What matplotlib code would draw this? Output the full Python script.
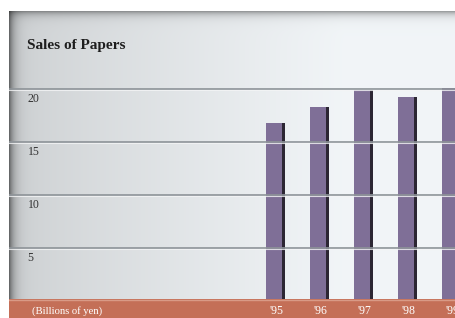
import numpy as np
import matplotlib.pyplot as plt

years = ["'95", "'96", "'97", "'98", "'99"]
sales = [16.8, 18.3, 19.9, 19.2, 20.1]
yticks = [5, 10, 15, 20]
title = "Sales of Papers"
unit_label = "(Billions of yen)"

W, H = 456, 318
fig = plt.figure(figsize=(W / 100, H / 100), dpi=100)
fig.patch.set_facecolor("white")

# panel background: grey gradient, dark on the left edge and the top
pl, pt = 9, 11
bg = fig.add_axes([pl / W, 0, 1 - pl / W, (H - pt) / H])
nx, ny = 447, 307
xs = np.linspace(0, 1, nx)
ys = np.linspace(0, 1, ny)
base = 0.82 + 0.15 * np.clip(xs / 0.75, 0, 1) ** 0.8
edge = 1 - 0.5 * np.exp(-xs * nx / 5.0)
row = base * edge
col = 1 - 0.35 * np.exp(-ys * ny / 4.0)
img = np.outer(col, row)
rgb = np.dstack([img * 0.975, img * 0.99, img * 1.0])
bg.imshow(np.clip(rgb, 0, 1), aspect="auto", extent=[0, 1, 0, 1])
bg.set_axis_off()

# data axes
bottom_px = 301
ax = fig.add_axes([pl / W, (H - bottom_px) / H, 1 - pl / W, (bottom_px - pt) / H])
ax.patch.set_alpha(0)
x = np.arange(len(years))
ax.set_xlim(-6.07, 4.09)
ax.set_ylim(0, (bottom_px - pt) / 10.6)

bar_w = 0.40
ax.bar(x - 0.03, sales, width=bar_w, color="#7f6f97", zorder=2)
ax.bar(x + bar_w / 2 - 0.03, sales, width=0.07, color="#2c2633", zorder=2)

for v in yticks:
    ax.axhline(v, color="#8d9398", lw=1.2, zorder=3)
    ax.axhline(v - 0.13, color="#f4f5f6", lw=0.8, alpha=0.8, zorder=3)
    ax.text(-5.65, v - 0.95, str(v), fontsize=8.5, family="Liberation Serif",
            color="#333333", va="center", ha="left")

ax.text(-5.67, 24.1, title, fontsize=11, family="Liberation Serif",
        weight="bold", color="#1e1e1e", va="center", ha="left")
ax.set_axis_off()

# bottom band with labels
band = fig.add_axes([pl / W, 0, 1 - pl / W, 19 / H], zorder=5)
band.set_xlim(ax.get_xlim())
band.set_ylim(0, 1)
band.set_facecolor("#c46f57")
band.axhline(0.97, color="#d99a86", lw=1.0)
for xi, lab in zip(x, years):
    band.text(xi, 0.35, lab, fontsize=8.5, family="Liberation Serif",
              color="white", ha="center", va="center")
band.text(-5.55, 0.35, unit_label, fontsize=7.7, family="Liberation Serif",
          color="white", ha="left", va="center")
band.set_xticks([])
band.set_yticks([])
for s in band.spines.values():
    s.set_visible(False)

fig.savefig("out.png", dpi=100)
